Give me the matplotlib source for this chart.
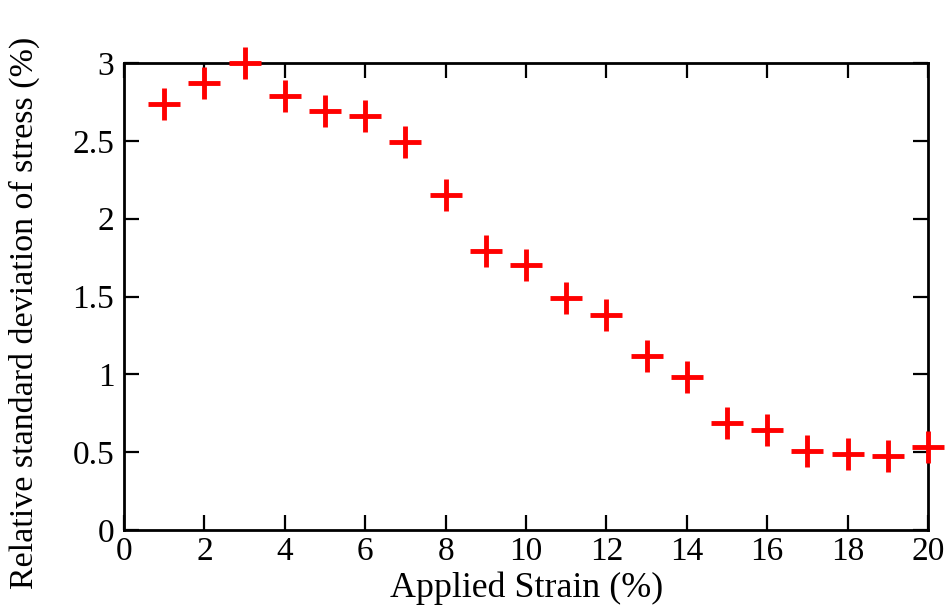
import matplotlib
matplotlib.use("Agg")
import matplotlib.pyplot as plt

# values
strain = [1, 2, 3, 4, 5, 6, 7, 8, 9, 10, 11, 12, 13, 14, 15, 16, 17, 18, 19, 20]
rel_std = [2.735, 2.87, 3.0, 2.79, 2.69, 2.66, 2.49, 2.15, 1.79, 1.70,
           1.49, 1.38, 1.12, 0.98, 0.69, 0.64, 0.51, 0.49, 0.475, 0.53]
xticks = [0, 2, 4, 6, 8, 10, 12, 14, 16, 18, 20]
yticks = [0, 0.5, 1, 1.5, 2, 2.5, 3]
ytick_labels = ["0", "0.5", "1", "1.5", "2", "2.5", "3"]

plt.rcParams['font.family'] = ['Liberation Serif', 'DejaVu Serif']

fig = plt.figure(figsize=(9.53, 6.13), dpi=100)
ax = fig.add_axes([124 / 953, 1 - 530 / 613, (928 - 124) / 953, (530 - 63) / 613])

ax.plot(strain, rel_std, linestyle="none", marker="+", color="#ff0000",
        markersize=23, markeredgewidth=3.5, clip_on=False, zorder=3)

ax.set_xlim(0, 20)
ax.set_ylim(0, 3)
ax.set_xticks(xticks)
ax.set_yticks(yticks)
ax.set_yticklabels(ytick_labels)

for s in ax.spines.values():
    s.set_linewidth(2)
ax.tick_params(direction="in", length=11, width=1.6, top=True, right=True,
               labelsize=24)
ax.tick_params(axis="x", pad=5)
ax.tick_params(axis="y", pad=7)

ax.set_xlabel("Applied Strain (%)", fontsize=25.8)
ax.set_ylabel("Relative standard deviation of stress (%)", fontsize=24.5)
ax.xaxis.set_label_coords(0.501, -0.088)
ax.yaxis.set_label_coords(-0.104, 0.464)

fig.savefig("out.png", dpi=100)
